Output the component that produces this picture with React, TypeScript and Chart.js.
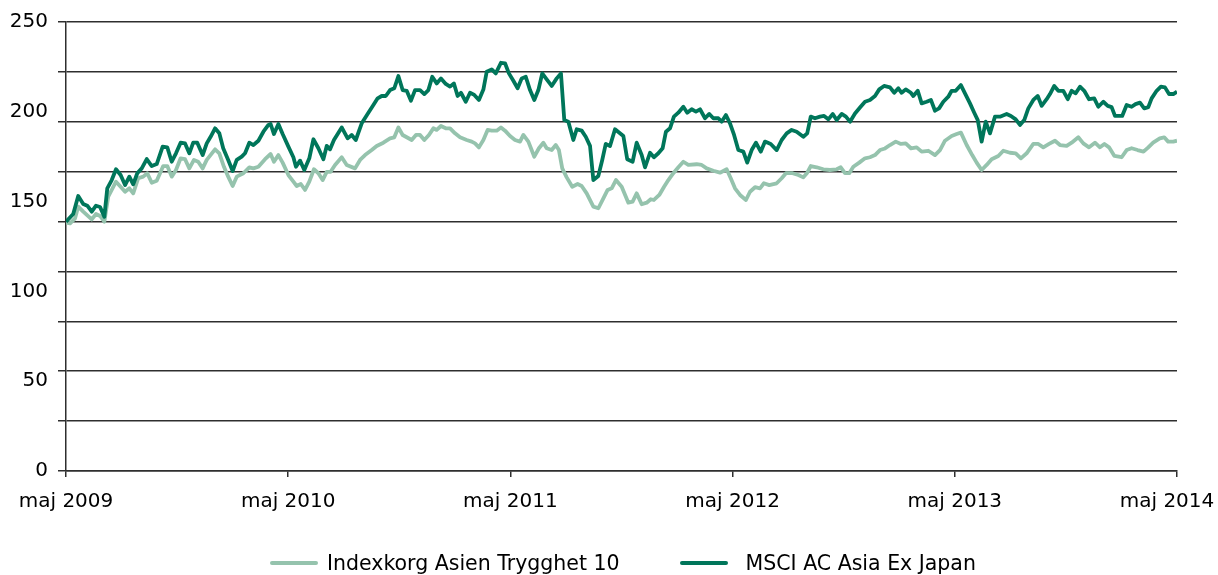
import React, { useEffect, useRef } from 'react';
import { Chart, registerables } from 'chart.js';

Chart.register(...registerables);

// Time axis: months since maj 2009
const xTickMonths = [0, 12, 24, 36, 48, 60];
const xTickLabels = ['maj 2009', 'maj 2010', 'maj 2011', 'maj 2012', 'maj 2013', 'maj 2014'];

const yLabelValues = [0, 50, 100, 150, 200, 250];
const yMax = 250;
const gridIntervals = 9;

const seriesNames = ['Indexkorg Asien Trygghet 10', 'MSCI AC Asia Ex Japan'];
const seriesColors = ['#95c3ad', '#00765a'];

const indexkorgMonths = [
  0, 0.22, 0.49, 0.66, 0.93, 1.39, 1.62, 1.84, 2.07, 2.28,
  2.70, 2.95, 3.19, 3.42, 3.63, 3.90, 4.17, 4.39, 4.63, 4.90,
  5.25, 5.47, 5.71, 5.94, 6.19, 6.43, 6.66, 6.91, 7.14, 7.38,
  7.60, 8.05, 8.28, 8.53, 8.76, 9.00, 9.22, 9.58, 9.90, 10.12,
  10.39, 10.75, 11.05, 11.23, 11.47, 11.70, 12.01, 12.28, 12.46, 12.68,
  12.91, 13.14, 13.39, 13.63, 13.86, 14.08, 14.29, 14.53, 14.89, 15.16,
  15.61, 15.88, 16.15, 16.51, 16.78, 17.14, 17.50, 17.73, 17.95, 18.18,
  18.67, 18.90, 19.12, 19.35, 19.60, 19.84, 20.02, 20.25, 20.51, 20.74,
  21.01, 21.28, 21.64, 21.91, 22.09, 22.30, 22.54, 22.77, 22.99, 23.26,
  23.49, 23.71, 23.98, 24.25, 24.52, 24.70, 24.97, 25.29, 25.54, 25.78,
  25.96, 26.23, 26.45, 26.62, 26.80, 27.04, 27.34, 27.63, 27.85, 28.12,
  28.48, 28.75, 29.02, 29.25, 29.47, 29.70, 30.01, 30.37, 30.60, 30.82,
  31.09, 31.36, 31.58, 31.75, 32.04, 32.30, 32.53, 32.80, 33.07, 33.34,
  33.61, 34.06, 34.33, 34.60, 34.96, 35.32, 35.68, 35.90, 36.13, 36.40,
  36.72, 36.94, 37.21, 37.48, 37.69, 37.98, 38.38, 38.65, 38.88, 39.24,
  39.55, 39.82, 40.03, 40.22, 40.54, 40.90, 41.26, 41.62, 41.84, 42.07,
  42.30, 42.52, 42.84, 43.15, 43.42, 43.69, 43.96, 44.23, 44.50, 44.81,
  45.09, 45.35, 45.63, 45.94, 46.21, 46.57, 46.93, 47.20, 47.47, 47.83,
  48.10, 48.33, 48.64, 48.94, 49.18, 49.45, 49.72, 49.99, 50.35, 50.62,
  50.98, 51.29, 51.57, 51.88, 52.24, 52.51, 52.78, 53.09, 53.41, 53.68,
  54.04, 54.31, 54.67, 54.94, 55.25, 55.57, 55.84, 56.08, 56.33, 56.62,
  57.01, 57.28, 57.55, 57.87, 58.19, 58.45, 58.71, 59.07, 59.31, 59.52,
  59.80, 60.00,
];

const indexkorgValues = [
  138.3, 137.9, 140.7, 147.2, 144.4, 140.1, 143.1, 142, 138.8, 152.7,
  161.1, 158.3, 155.5, 157.4, 154.6, 163, 163.9, 165.8, 160.5, 161.6,
  169.8, 169.8, 163.9, 167.6, 174.1, 173.6, 168.5, 173.2, 172.2, 168.5,
  173.2, 179.1, 176.9, 169.4, 163.9, 158.7, 163.9, 165.8, 169.1, 168.5,
  169.4, 173.6, 176.5, 172.2, 175.9, 171.7, 164.8, 161.1, 158.7, 159.8,
  156.5, 161.1, 168, 165.8, 162, 166.6, 166.6, 170.4, 174.7, 170.4,
  168.5, 173.2, 175.9, 178.7, 181, 182.8, 185.2, 185.8, 191.3, 187.1,
  184.3, 187.1, 187.1, 184.3, 187.1, 190.8, 189.9, 192.1, 190.8, 190.8,
  188, 185.8, 184.3, 183.4, 182.4, 180.2, 184.3, 189.9, 189.5, 189.5,
  191.3, 189.5, 186.5, 184.3, 183.4, 187.1, 183.4, 175, 179.7, 182.8,
  179.7, 178.7, 181.5, 178.7, 168.5, 163.5, 158.3, 159.8, 158.7, 154.6,
  147.2, 146.3, 151.8, 156.5, 157.4, 162, 158.3, 149.4, 150, 154.6,
  148.5, 149.4, 151.3, 150.9, 153.7, 158.3, 162, 165.8, 169.1, 172.2,
  170.4, 170.8, 170.4, 168.5, 167.2, 166.1, 168, 163, 157.4, 153.7,
  150.9, 155.5, 158, 157.4, 160.2, 159.2, 160.2, 163, 165.8, 165.8,
  164.8, 163.5, 166.1, 169.8, 169.1, 168, 167.6, 168, 169.1, 165.8,
  165.8, 169.4, 171.7, 174.1, 174.7, 175.9, 178.7, 179.6, 181.5, 183.4,
  182.1, 182.4, 179.7, 180.2, 177.8, 178.3, 175.9, 178.7, 183.9, 186.5,
  187.6, 188.4, 181.5, 175.9, 171.7, 167.6, 170.4, 173.6, 175.4, 178.3,
  177.2, 176.9, 174.1, 176.9, 182.1, 182.1, 180.2, 182.1, 183.9, 181.5,
  181, 182.8, 185.8, 182.4, 180.2, 182.8, 180.2, 182.1, 180.2, 175.4,
  174.7, 178.7, 179.7, 178.7, 177.8, 180.2, 182.8, 185.2, 185.8, 183.4,
  183.4, 183.9,
];

const msciMonths = [
  0, 0.39, 0.66, 0.93, 1.15, 1.39, 1.62, 1.84, 2.07, 2.23,
  2.47, 2.70, 2.95, 3.19, 3.42, 3.63, 3.85, 4.09, 4.36, 4.63,
  4.90, 5.22, 5.47, 5.71, 5.94, 6.19, 6.43, 6.66, 6.87, 7.09,
  7.38, 7.60, 7.81, 8.05, 8.28, 8.49, 8.76, 9.00, 9.22, 9.49,
  9.67, 9.90, 10.12, 10.39, 10.66, 10.93, 11.05, 11.23, 11.47, 11.70,
  12.01, 12.28, 12.42, 12.64, 12.87, 13.14, 13.36, 13.63, 13.90, 14.08,
  14.26, 14.47, 14.89, 15.21, 15.43, 15.65, 15.97, 16.33, 16.60, 16.83,
  17.05, 17.27, 17.50, 17.73, 17.95, 18.18, 18.40, 18.63, 18.85, 19.12,
  19.35, 19.57, 19.78, 20.02, 20.25, 20.51, 20.74, 20.95, 21.15, 21.33,
  21.59, 21.82, 22.05, 22.30, 22.54, 22.72, 22.99, 23.21, 23.49, 23.71,
  23.92, 24.16, 24.39, 24.61, 24.83, 25.06, 25.29, 25.51, 25.72, 25.96,
  26.23, 26.50, 26.73, 26.91, 27.13, 27.40, 27.58, 27.85, 28.07, 28.30,
  28.48, 28.75, 28.96, 29.15, 29.38, 29.65, 30.10, 30.31, 30.60, 30.82,
  31.09, 31.27, 31.54, 31.75, 31.99, 32.22, 32.40, 32.62, 32.83, 33.07,
  33.34, 33.55, 33.79, 34.02, 34.24, 34.51, 34.74, 34.96, 35.23, 35.41,
  35.64, 35.86, 36.08, 36.31, 36.58, 36.79, 37.03, 37.26, 37.52, 37.75,
  38.06, 38.38, 38.65, 38.92, 39.19, 39.46, 39.82, 40.03, 40.22, 40.45,
  40.72, 40.94, 41.17, 41.41, 41.62, 41.89, 42.12, 42.34, 42.61, 42.88,
  43.15, 43.42, 43.69, 43.92, 44.18, 44.50, 44.73, 44.95, 45.13, 45.35,
  45.63, 45.76, 46.00, 46.21, 46.48, 46.71, 46.93, 47.15, 47.38, 47.65,
  47.83, 48.05, 48.33, 48.55, 48.82, 49.05, 49.24, 49.45, 49.67, 49.90,
  50.17, 50.44, 50.80, 51.03, 51.29, 51.52, 51.75, 51.97, 52.24, 52.48,
  52.69, 52.96, 53.14, 53.37, 53.59, 53.86, 54.10, 54.31, 54.53, 54.76,
  54.99, 55.25, 55.53, 55.75, 56.02, 56.26, 56.47, 56.65, 57.04, 57.28,
  57.55, 57.76, 58.00, 58.23, 58.45, 58.63, 58.90, 59.13, 59.35, 59.57,
  59.80, 60.00,
];

const msciValues = [
  138.8, 143.1, 153.1, 148.7, 147.7, 144.4, 147.7, 147, 141.6, 157.4,
  162, 168, 164.8, 159.2, 163.9, 159.6, 165.8, 168.5, 173.7, 169.8,
  170.9, 180.6, 180.2, 172.2, 176.9, 182.8, 182.4, 176.9, 182.8, 182.8,
  175.9, 182.4, 186.1, 190.8, 188, 179.7, 173.2, 167, 173.2, 175,
  176.9, 182.8, 181.5, 183.9, 188.9, 192.7, 193.2, 187.6, 193.2, 187.6,
  180.6, 174.7, 169.4, 172.8, 167.6, 174.1, 184.7, 179.7, 173.6, 181,
  179.1, 184.3, 191.3, 185.2, 187.1, 184.3, 193.6, 199.5, 203.8, 207.5,
  208.8, 208.8, 212.1, 213.1, 219.9, 212.1, 211.7, 206.2, 212.1, 212.1,
  209.9, 212.1, 219.5, 215.8, 218.6, 215.5, 214, 215.8, 208.8, 210.6,
  205.6, 210.6, 209.4, 206.6, 212.4, 222.3, 223.6, 221.4, 227.3, 227,
  221.4, 217.3, 213.1, 218.6, 219.5, 212.1, 206.6, 212.1, 221.4, 218.1,
  214.4, 218.6, 221.4, 195.4, 194.5, 184.3, 190.3, 189.5, 186.1, 181,
  162, 164.3, 173.2, 182.1, 181, 190.3, 186.5, 173.6, 172.2, 182.8,
  175.9, 169.1, 177.2, 174.7, 176.9, 179.7, 188.9, 190.8, 197.3, 199.5,
  202.8, 199.5, 201.4, 200.1, 201.4, 196.4, 198.8, 196.4, 196.4, 194.5,
  198.2, 193.6, 187.1, 178.7, 177.8, 171.7, 178.7, 182.8, 177.8, 183.4,
  182.1, 178.7, 184.3, 188, 189.9, 188.9, 186.1, 188, 197.3, 196.4,
  197.3, 197.7, 195.8, 198.8, 195.4, 198.8, 197.3, 194.5, 199.1, 202.4,
  205.6, 206.6, 208.8, 212.5, 214.4, 213.6, 210.6, 213.1, 210.6, 212.5,
  210.6, 208.8, 211.7, 204.7, 205.6, 206.6, 200.6, 201.9, 205.6, 208.4,
  211.7, 211.7, 214.9, 210.3, 204.7, 199.5, 195.4, 183.4, 194.5, 188,
  197.3, 197.3, 198.8, 197.7, 195.8, 192.7, 195.4, 201.9, 206.6, 208.8,
  203.3, 207, 209.9, 214.4, 211.7, 211.7, 207, 211.7, 210.3, 214,
  211.7, 207, 207.5, 202.8, 205.6, 203.3, 202.6, 197.7, 197.7, 203.8,
  202.8, 204.3, 205.1, 201.9, 202.6, 207.5, 211.7, 214, 213.6, 209.9,
  209.9, 211.2,
];

const FONT_FAMILY = '"DejaVu Sans", "Liberation Sans", Arial, sans-serif';
const TEXT_COLOR = '#000000';
const AXIS_COLOR = '#2e2e2e';

const toPoints = (xs: number[], ys: number[]) =>
  xs.slice(0, Math.min(xs.length, ys.length)).map((x, i) => ({ x, y: ys[i] }));

export default function App() {
  const canvasRef = useRef<HTMLCanvasElement | null>(null);

  useEffect(() => {
    const canvas = canvasRef.current;
    if (!canvas) return;

    const gridValues: number[] = [];
    for (let k = 0; k <= gridIntervals; k++) gridValues.push((k * yMax) / gridIntervals);
    const isGrid = (v: number) => gridValues.some((g) => Math.abs(g - v) < 1e-6);
    const isLabel = (v: number) => yLabelValues.some((g) => Math.abs(g - v) < 1e-6);
    const yTicks = gridValues
      .concat(yLabelValues.filter((v) => !isGrid(v)))
      .sort((a, b) => a - b);

    const shiftLastLabel = {
      id: 'shiftLastLabel',
      beforeDraw(chart: any) {
        const s = chart.scales.x;
        if (!s) return;
        const items = s.getLabelItems(chart.chartArea);
        const last = items && items[items.length - 1];
        if (last && !last._shifted) {
          last.options.translation[0] -= 10;
          last._shifted = true;
        }
      },
    };

    const chart = new Chart(canvas, {
      type: 'line',
      data: {
        datasets: [
          {
            label: seriesNames[0],
            data: toPoints(indexkorgMonths, indexkorgValues),
            borderColor: seriesColors[0],
            backgroundColor: seriesColors[0],
            borderWidth: 3.8,
            pointRadius: 0,
            tension: 0,
            borderJoinStyle: 'round',
            order: 2,
          },
          {
            label: seriesNames[1],
            data: toPoints(msciMonths, msciValues),
            borderColor: seriesColors[1],
            backgroundColor: seriesColors[1],
            borderWidth: 3.8,
            pointRadius: 0,
            tension: 0,
            borderJoinStyle: 'round',
            order: 1,
          },
        ],
      },
      options: {
        animation: false,
        responsive: false,
        maintainAspectRatio: false,
        layout: { padding: { top: 22, right: 41, bottom: 44, left: 0 } },
        plugins: {
          legend: { display: false },
          tooltip: { enabled: false },
        },
        scales: {
          x: {
            type: 'linear',
            min: xTickMonths[0],
            max: xTickMonths[xTickMonths.length - 1],
            afterBuildTicks: (s: any) => {
              s.ticks = xTickMonths.map((v) => ({ value: v }));
            },
            afterFit: (s: any) => {
              s.height = 60;
              s.paddingLeft = 0;
              s.paddingRight = 0;
            },
            ticks: {
              autoSkip: false,
              maxRotation: 0,
              minRotation: 0,
              padding: 13,
              color: TEXT_COLOR,
              font: { family: FONT_FAMILY, size: 20 },
              callback: (v: any) => {
                const i = xTickMonths.indexOf(Number(v));
                return i >= 0 ? xTickLabels[i] : '';
              },
            },
            grid: {
              drawOnChartArea: false,
              drawTicks: true,
              tickLength: 6,
              color: AXIS_COLOR,
              lineWidth: 1.5,
            },
            border: { display: true, color: AXIS_COLOR, width: 1.5 },
          },
          y: {
            type: 'linear',
            min: 0,
            max: yMax,
            afterBuildTicks: (s: any) => {
              s.ticks = yTicks.map((v) => ({ value: v }));
            },
            afterFit: (s: any) => {
              s.width = 66;
            },
            ticks: {
              autoSkip: false,
              padding: 10,
              color: TEXT_COLOR,
              font: { family: FONT_FAMILY, size: 20 },
              callback: (v: any) => (isLabel(Number(v)) ? String(Math.round(Number(v))) : ''),
            },
            grid: {
              color: (ctx: any) =>
                ctx.tick && isGrid(ctx.tick.value) ? AXIS_COLOR : 'rgba(0,0,0,0)',
              lineWidth: 1.5,
              tickLength: 8,
              drawTicks: true,
            },
            border: { display: true, color: AXIS_COLOR, width: 1.5 },
          },
        },
      },
      plugins: [shiftLastLabel],
    } as any);

    return () => chart.destroy();
  }, []);

  return (
    <div
      style={{
        position: 'fixed',
        left: 0,
        top: 0,
        width: 1218,
        height: 575,
        background: '#ffffff',
        overflow: 'hidden',
      }}
    >
      <canvas ref={canvasRef} width={1218} height={575} style={{ display: 'block' }} />
      <div
        style={{
          position: 'absolute',
          left: 270,
          top: 551,
          display: 'flex',
          alignItems: 'center',
          gap: 60,
          fontFamily: FONT_FAMILY,
          fontSize: 20.5,
          lineHeight: '24px',
          color: TEXT_COLOR,
          whiteSpace: 'nowrap',
        }}
      >
        {seriesNames.map((name, i) => (
          <div key={name} style={{ display: 'flex', alignItems: 'center' }}>
            <span
              style={{
                display: 'inline-block',
                width: 48,
                height: 4,
                borderRadius: 2,
                background: seriesColors[i],
                marginRight: i === 0 ? 9 : 18,
              }}
            />
            <span>{name}</span>
          </div>
        ))}
      </div>
    </div>
  );
}
